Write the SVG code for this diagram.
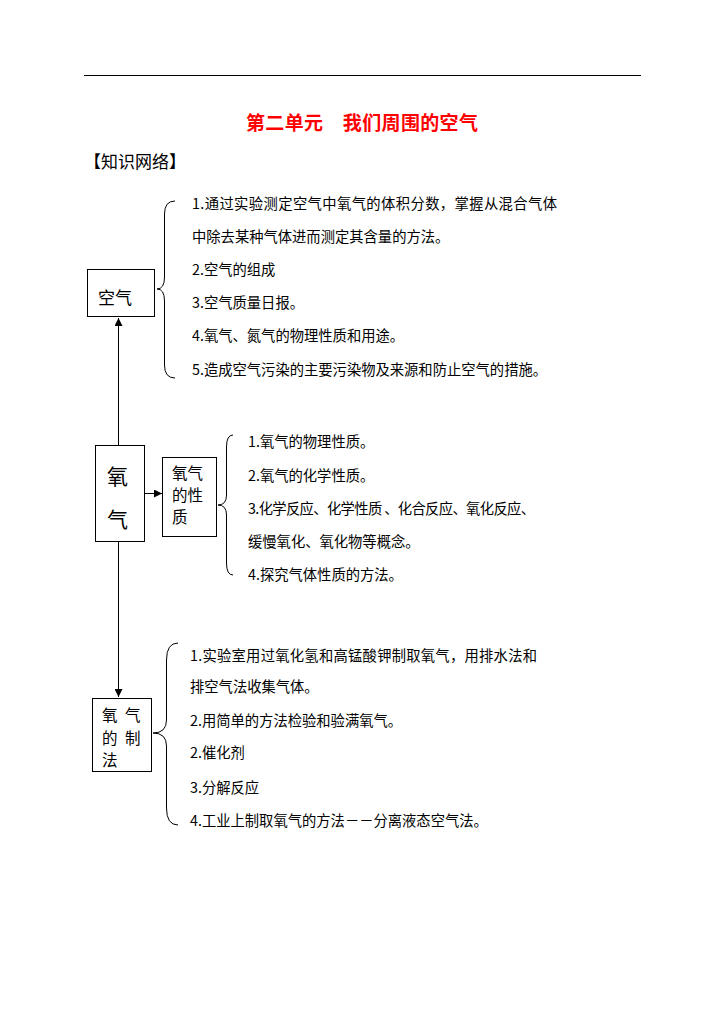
<svg xmlns="http://www.w3.org/2000/svg" width="725" height="1024" viewBox="0 0 725 1024">
<style>
.t{font-family:"Noto Sans CJK SC","Liberation Sans",sans-serif;font-size:14.3px;fill:#000}
.n{font-family:"Noto Sans CJK SC","Liberation Sans",sans-serif;fill:#000}
.box{fill:#fff;stroke:#000;stroke-width:1}
.ln{fill:none;stroke:#000;stroke-width:1}
</style>
<defs>
<marker id="ah" viewBox="0 0 8 8" refX="8" refY="4" markerWidth="8" markerHeight="8" markerUnits="userSpaceOnUse" orient="auto">
<path d="M0,0 L8,4 L0,8 Z" fill="#000"/>
</marker>
</defs>
<rect width="725" height="1024" fill="#fff"/>
<line x1="84" y1="75.5" x2="641" y2="75.5" stroke="#000" stroke-width="1"/>
<text x="246" y="130" font-family="'Noto Sans CJK SC',sans-serif" font-size="19" font-weight="bold" fill="#f00" textLength="232" lengthAdjust="spacing">第二单元　我们周围的空气</text>
<text x="84" y="168" class="n" font-size="17">【知识网络】</text>

<g id="connectors">
<line class="ln" x1="118.5" y1="445" x2="118.5" y2="318" marker-end="url(#ah)"/>
<line class="ln" x1="118.5" y1="542" x2="118.5" y2="697" marker-end="url(#ah)"/>
<line class="ln" x1="145" y1="493.5" x2="162" y2="493.5" marker-end="url(#ah)"/>
<path class="ln" d="M175,201 Q164.5,201 164.5,214 L164.5,277 Q164.5,289 157,289 Q164.5,289 164.5,301 L164.5,365 Q164.5,378 175,378"/>
<path class="ln" d="M233,435 Q226.5,435 226.5,447 L226.5,495 Q226.5,505 218,505 Q226.5,505 226.5,515 L226.5,563 Q226.5,575 233,575"/>
<path class="ln" d="M178,643 Q166.5,643 166.5,660 L166.5,720 Q166.5,733 153,733 Q166.5,733 166.5,746 L166.5,808 Q166.5,825 178,825"/>
</g>

<g id="node-air">
<rect class="box" x="87.5" y="269.5" width="67" height="47"/>
<text x="98" y="304" class="n" font-size="17">空气</text>
</g>
<g id="list-air">
<text class="t" x="192" y="209" textLength="365" lengthAdjust="spacing">1.通过实验测定空气中氧气的体积分数，掌握从混合气体</text>
<text class="t" x="192" y="242">中除去某种气体进而测定其含量的方法。</text>
<text class="t" x="192" y="275">2.空气的组成</text>
<text class="t" x="192" y="308">3.空气质量日报。</text>
<text class="t" x="192" y="341">4.氧气、氮气的物理性质和用途。</text>
<text class="t" x="192" y="375">5.造成空气污染的主要污染物及来源和防止空气的措施。</text>
</g>

<g id="node-oxygen">
<rect class="box" x="95.5" y="445.5" width="49" height="96"/>
<text x="107" y="484" class="n" font-size="21">氧</text>
<text x="107" y="527" class="n" font-size="21">气</text>
</g>

<g id="node-properties">
<rect class="box" x="162.5" y="457.5" width="54" height="79"/>
<text x="172" y="479" class="n" font-size="15.5">氧气</text>
<text x="172" y="501" class="n" font-size="15.5">的性</text>
<text x="172" y="523" class="n" font-size="15.5">质</text>
</g>
<g id="list-properties">
<text class="t" x="248" y="447">1.氧气的物理性质。</text>
<text class="t" x="248" y="481">2.氧气的化学性质。</text>
<text class="t" x="248" y="514" textLength="287" lengthAdjust="spacing">3.化学反应、化学性质 、化合反应、氧化反应、</text>
<text class="t" x="248" y="547">缓慢氧化、氧化物等概念。</text>
<text class="t" x="248" y="580">4.探究气体性质的方法。</text>
</g>

<g id="node-preparation">
<rect class="box" x="92.5" y="698.5" width="59" height="73"/>
<text x="102" y="721" class="n" font-size="15.5">氧</text>
<text x="125" y="721" class="n" font-size="15.5">气</text>
<text x="102" y="744" class="n" font-size="15.5">的</text>
<text x="125" y="744" class="n" font-size="15.5">制</text>
<text x="102" y="766" class="n" font-size="15.5">法</text>
</g>
<g id="list-preparation">
<text class="t" x="190" y="661" textLength="347" lengthAdjust="spacing">1.实验室用过氧化氢和高锰酸钾制取氧气，用排水法和</text>
<text class="t" x="190" y="692">排空气法收集气体。</text>
<text class="t" x="190" y="726">2.用简单的方法检验和验满氧气。</text>
<text class="t" x="190" y="758">2.催化剂</text>
<text class="t" x="190" y="793">3.分解反应</text>
<text class="t" x="190" y="826">4.工业上制取氧气的方法－－分离液态空气法。</text>
</g>
</svg>
